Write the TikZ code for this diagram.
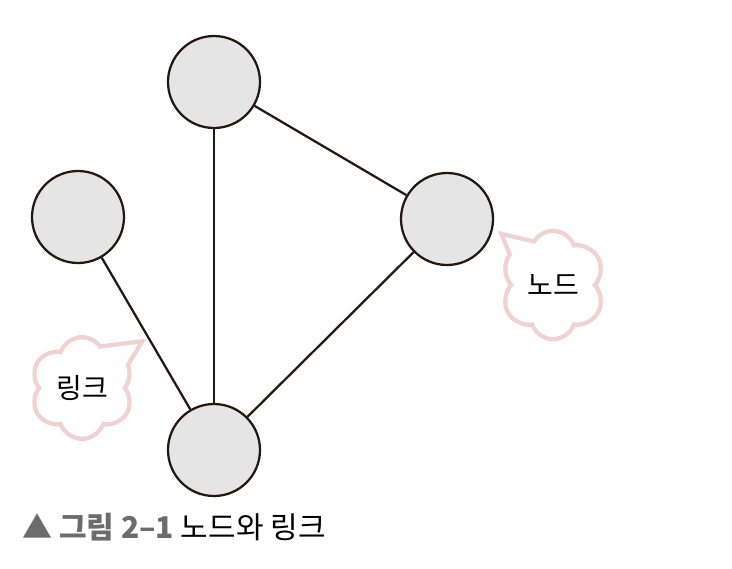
\documentclass[tikz,border=0pt]{standalone}
\usepackage{fontspec}
\setmainfont{Noto Sans CJK KR}
\usepackage{xcolor}
\usetikzlibrary{calc,backgrounds}
\usetikzlibrary{shapes,shapes.symbols}
\pgfdeclarelayer{edgelayer}
\pgfdeclarelayer{nodelayer}
\pgfsetlayers{background,edgelayer,nodelayer,main}
\definecolor{nodefill}{RGB}{229,229,229}
\definecolor{nodeline}{RGB}{35,24,21}
\definecolor{puffline}{RGB}{241,210,210}
\definecolor{capgray}{RGB}{108,108,108}
\tikzstyle{none}=[inner sep=0mm]
\tikzstyle{gn}=[circle,draw=nodeline,fill=nodefill,line width=1.7pt,minimum size=69pt,inner sep=0pt]
\tikzstyle{link}=[draw=nodeline,line width=1.7pt]
\tikzstyle{puff}=[cloud,cloud puffs=6,aspect=1,inner sep=0pt]
\tikzstyle{puff rim}=[draw=puffline,line width=6.5pt,line join=miter]
\tikzstyle{puff body}=[fill=white]
\tikzstyle{tag}=[inner sep=0pt,font=\fontsize{21}{21}\selectfont]

\begin{document}
\begin{tikzpicture}[x=0.75pt,y=-0.75pt]
	\useasboundingbox (0,0) rectangle (732,568);
	\begin{pgfonlayer}{nodelayer}
		\node [style=gn] (top) at (214, 82) {};
		\node [style=gn] (left) at (78, 217) {};
		\node [style=gn] (right) at (447, 219) {};
		\node [style=gn] (bottom) at (214, 450) {};
	\end{pgfonlayer}
	\begin{pgfonlayer}{edgelayer}
		\draw [style=link] (top) to (bottom);
		\draw [style=link] (top) to (right);
		\draw [style=link] (right) to (bottom);
		\draw [style=link] (left) to (bottom);
	\end{pgfonlayer}
	% callouts
	\node [style=puff,style=puff rim,minimum width=75pt,minimum height=78pt] (nodepuff) at (553, 285) {};
	\coordinate (nodetip) at (505, 237);
	\draw [style=puff rim] (nodetip) -- ($(nodepuff)+(-28,0)$) -- ($(nodepuff)+(4,-36)$) -- cycle;
	\node [style=puff,style=puff body,minimum width=75pt,minimum height=78pt] at (nodepuff) {};
	\fill [style=puff body] (nodetip) -- ($(nodepuff)+(-28,0)$) -- ($(nodepuff)+(4,-36)$) -- cycle;
	\node [style=tag] (nodetext) at (nodepuff) {노드};

	\node [style=puff,style=puff rim,minimum width=74pt,minimum height=73pt] (linkpuff) at (82, 388) {};
	\coordinate (linktip) at (138, 344);
	\draw [style=puff rim] (linktip) -- ($(linkpuff)+(28,2)$) -- ($(linkpuff)+(-8,-36)$) -- cycle;
	\node [style=puff,style=puff body,minimum width=74pt,minimum height=73pt] at (linkpuff) {};
	\fill [style=puff body] (linktip) -- ($(linkpuff)+(28,2)$) -- ($(linkpuff)+(-8,-36)$) -- cycle;
	\node [style=tag] (linktext) at (linkpuff) {링크};

	\node [style=none,anchor=base west,font=\fontsize{22.5}{22.5}\selectfont] (caption) at (22, 538)
		{{\color{capgray}\bfseries ▲ 그림 2–1} 노드와 링크};
\end{tikzpicture}
\end{document}
